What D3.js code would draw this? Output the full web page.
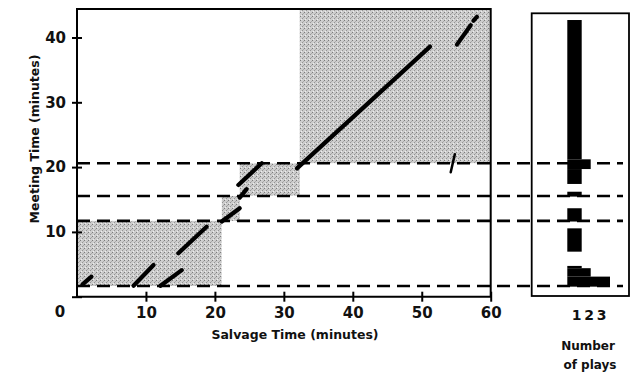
<!DOCTYPE html>
<html>
<head>
<meta charset="utf-8">
<script src="https://cdn.jsdelivr.net/npm/d3@7"></script>
<style>
  body { margin: 0; background: #fff; }
  text { font-family: "DejaVu Sans", sans-serif; font-weight: bold; fill: #111; }
</style>
</head>
<body>
<div id="graph"></div>
<script>
// values (minutes)
var salvageTicks = [10, 20, 30, 40, 50, 60];
var meetingTicks = [0, 10, 20, 30, 40];
var countTicks = [1, 2, 3];
var cutLevels = [1.65, 11.7, 15.55, 20.6];
// shaded blocks: [salvage from, salvage to, meeting from, meeting to]
var shaded = [
  [0, 21, 1.65, 11.7],
  [21, 23.6, 11.7, 15.55],
  [23.6, 32.3, 15.55, 20.6],
  [32.3, 60, 20.6, 44.4]
];
// play traces: [salvage0, meeting0, salvage1, meeting1]
var traces = [
  [0.8, 1.9, 2.1, 3.1],
  [8.2, 1.7, 11.1, 4.9],
  [12.1, 1.7, 15.2, 4.1],
  [14.7, 6.7, 18.8, 10.8],
  [21.0, 11.6, 23.6, 13.65],
  [23.6, 15.3, 24.6, 16.6],
  [23.4, 17.25, 26.8, 20.6],
  [31.9, 19.8, 51.2, 38.6],
  [55.1, 38.9, 57.1, 41.9],
  [57.5, 42.6, 58.0, 43.2],
  [54.8, 22.0, 54.2, 19.2]
];
// histogram of plays: [meeting from, meeting to, number of plays]
var plays = [
  [1.55, 3.1, 3],
  [3.1, 4.4, 2],
  [4.4, 4.75, 1],
  [6.95, 10.55, 1],
  [11.6, 13.65, 1],
  [15.45, 16.2, 1],
  [17.4, 19.7, 1],
  [19.7, 21.2, 2],
  [21.2, 42.7, 1]
];

var width = 634, height = 373;

var svg = d3.select("#graph").append("svg")
  .attr("width", width)
  .attr("height", height);

var x = d3.scaleLinear().domain([0, 60]).range([77, 490.7]);
var y = d3.scaleLinear().domain([0, 44.4]).range([296.7, 9]);
var h = d3.scaleLinear().domain([0, 1, 2, 3]).range([567.3, 581.7, 590.7, 610]);
var hLabel = d3.scaleLinear().domain([1, 3]).range([576.5, 601.5]);

// stipple texture
var pat = svg.append("defs").append("pattern")
  .attr("id", "stip")
  .attr("width", 4).attr("height", 4)
  .attr("patternUnits", "userSpaceOnUse");
pat.append("rect").attr("width", 4).attr("height", 4).attr("fill", "#cdcdcd");
pat.append("rect").attr("x", 0).attr("y", 0).attr("width", 1).attr("height", 1).attr("fill", "#7c7c7c");
pat.append("rect").attr("x", 2).attr("y", 2).attr("width", 1).attr("height", 1).attr("fill", "#949494");
pat.append("rect").attr("x", 3).attr("y", 1).attr("width", 1).attr("height", 1).attr("fill", "#aaaaaa");
pat.append("rect").attr("x", 1).attr("y", 3).attr("width", 1).attr("height", 1).attr("fill", "#eeeeee");

svg.append("g").selectAll("rect")
  .data(shaded)
  .enter().append("rect")
  .attr("x", function(d) { return x(d[0]); })
  .attr("width", function(d) { return x(d[1]) - x(d[0]); })
  .attr("y", function(d) { return y(d[3]); })
  .attr("height", function(d) { return y(d[2]) - y(d[3]); })
  .attr("fill", "url(#stip)");

// histogram bars
svg.append("g").selectAll("rect")
  .data(plays)
  .enter().append("rect")
  .attr("x", h(0))
  .attr("width", function(d) { return h(d[2]) - h(0); })
  .attr("y", function(d) { return y(d[1]); })
  .attr("height", function(d) { return y(d[0]) - y(d[1]); })
  .attr("fill", "#000");

// frames
svg.append("path")
  .attr("d", "M" + x(0) + "," + y(44.4) + "H" + x(60) + "V" + y(0) + "H" + x(0) + "Z")
  .attr("fill", "none").attr("stroke", "#000").attr("stroke-width", 2);
svg.append("rect")
  .attr("x", 531.7).attr("y", 13.3)
  .attr("width", 629 - 531.7).attr("height", 296 - 13.3)
  .attr("fill", "none").attr("stroke", "#000").attr("stroke-width", 1.8);

// dashed cut lines
svg.append("g").selectAll("line")
  .data(cutLevels)
  .enter().append("line")
  .attr("x1", x(0)).attr("x2", 623)
  .attr("y1", function(d) { return y(d); })
  .attr("y2", function(d) { return y(d); })
  .attr("stroke", "#000")
  .attr("stroke-width", 2.6)
  .attr("stroke-dasharray", "13,7");

// traces
svg.append("g").selectAll("line")
  .data(traces)
  .enter().append("line")
  .attr("x1", function(d) { return x(d[0]); })
  .attr("y1", function(d) { return y(d[1]); })
  .attr("x2", function(d) { return x(d[2]); })
  .attr("y2", function(d) { return y(d[3]); })
  .attr("stroke", "#000")
  .attr("stroke-width", function(d, i) { return i === traces.length - 1 ? 2.5 : 4.2; })
  .attr("stroke-linecap", "round");

// axes, ticks cross the axis line
var xAxis = svg.append("g")
  .attr("transform", "translate(0," + (y(0) - 5) + ")")
  .call(d3.axisBottom(x).tickValues(salvageTicks).tickSize(10).tickPadding(2));
xAxis.select(".domain").remove();
xAxis.selectAll("line").attr("stroke-width", 2);
xAxis.selectAll("text").attr("font-size", 15).attr("dy", "0.95em")
  .style("font-family", "DejaVu Sans").style("font-weight", "bold");

var yAxis = svg.append("g")
  .attr("transform", "translate(" + (x(0) + 5) + ",0)")
  .call(d3.axisLeft(y).tickValues(meetingTicks).tickSize(10).tickPadding(6));
yAxis.select(".domain").remove();
yAxis.selectAll("line").attr("stroke-width", 2);
yAxis.selectAll("text").attr("font-size", 15)
  .style("font-family", "DejaVu Sans").style("font-weight", "bold")
  .text(function(d) { return d === 0 ? "" : d; });

svg.append("text")
  .attr("x", 60).attr("y", 316.5)
  .attr("text-anchor", "middle").attr("font-size", 15)
  .text("0");

svg.append("g").selectAll("text")
  .data(countTicks)
  .enter().append("text")
  .attr("x", function(d) { return hLabel(d); })
  .attr("y", 320)
  .attr("text-anchor", "middle")
  .attr("font-size", 14)
  .text(function(d) { return d; });

svg.append("text")
  .attr("x", 295).attr("y", 339)
  .attr("text-anchor", "middle").attr("font-size", 12.5)
  .text("Salvage Time (minutes)");

svg.append("text")
  .attr("transform", "translate(39,139) rotate(-90)")
  .attr("text-anchor", "middle").attr("font-size", 12.5)
  .text("Meeting Time (minutes)");

svg.append("text")
  .attr("x", 588).attr("y", 350)
  .attr("text-anchor", "middle").attr("font-size", 12)
  .text("Number");
svg.append("text")
  .attr("x", 590).attr("y", 369)
  .attr("text-anchor", "middle").attr("font-size", 12)
  .text("of plays");
</script>
</body>
</html>
